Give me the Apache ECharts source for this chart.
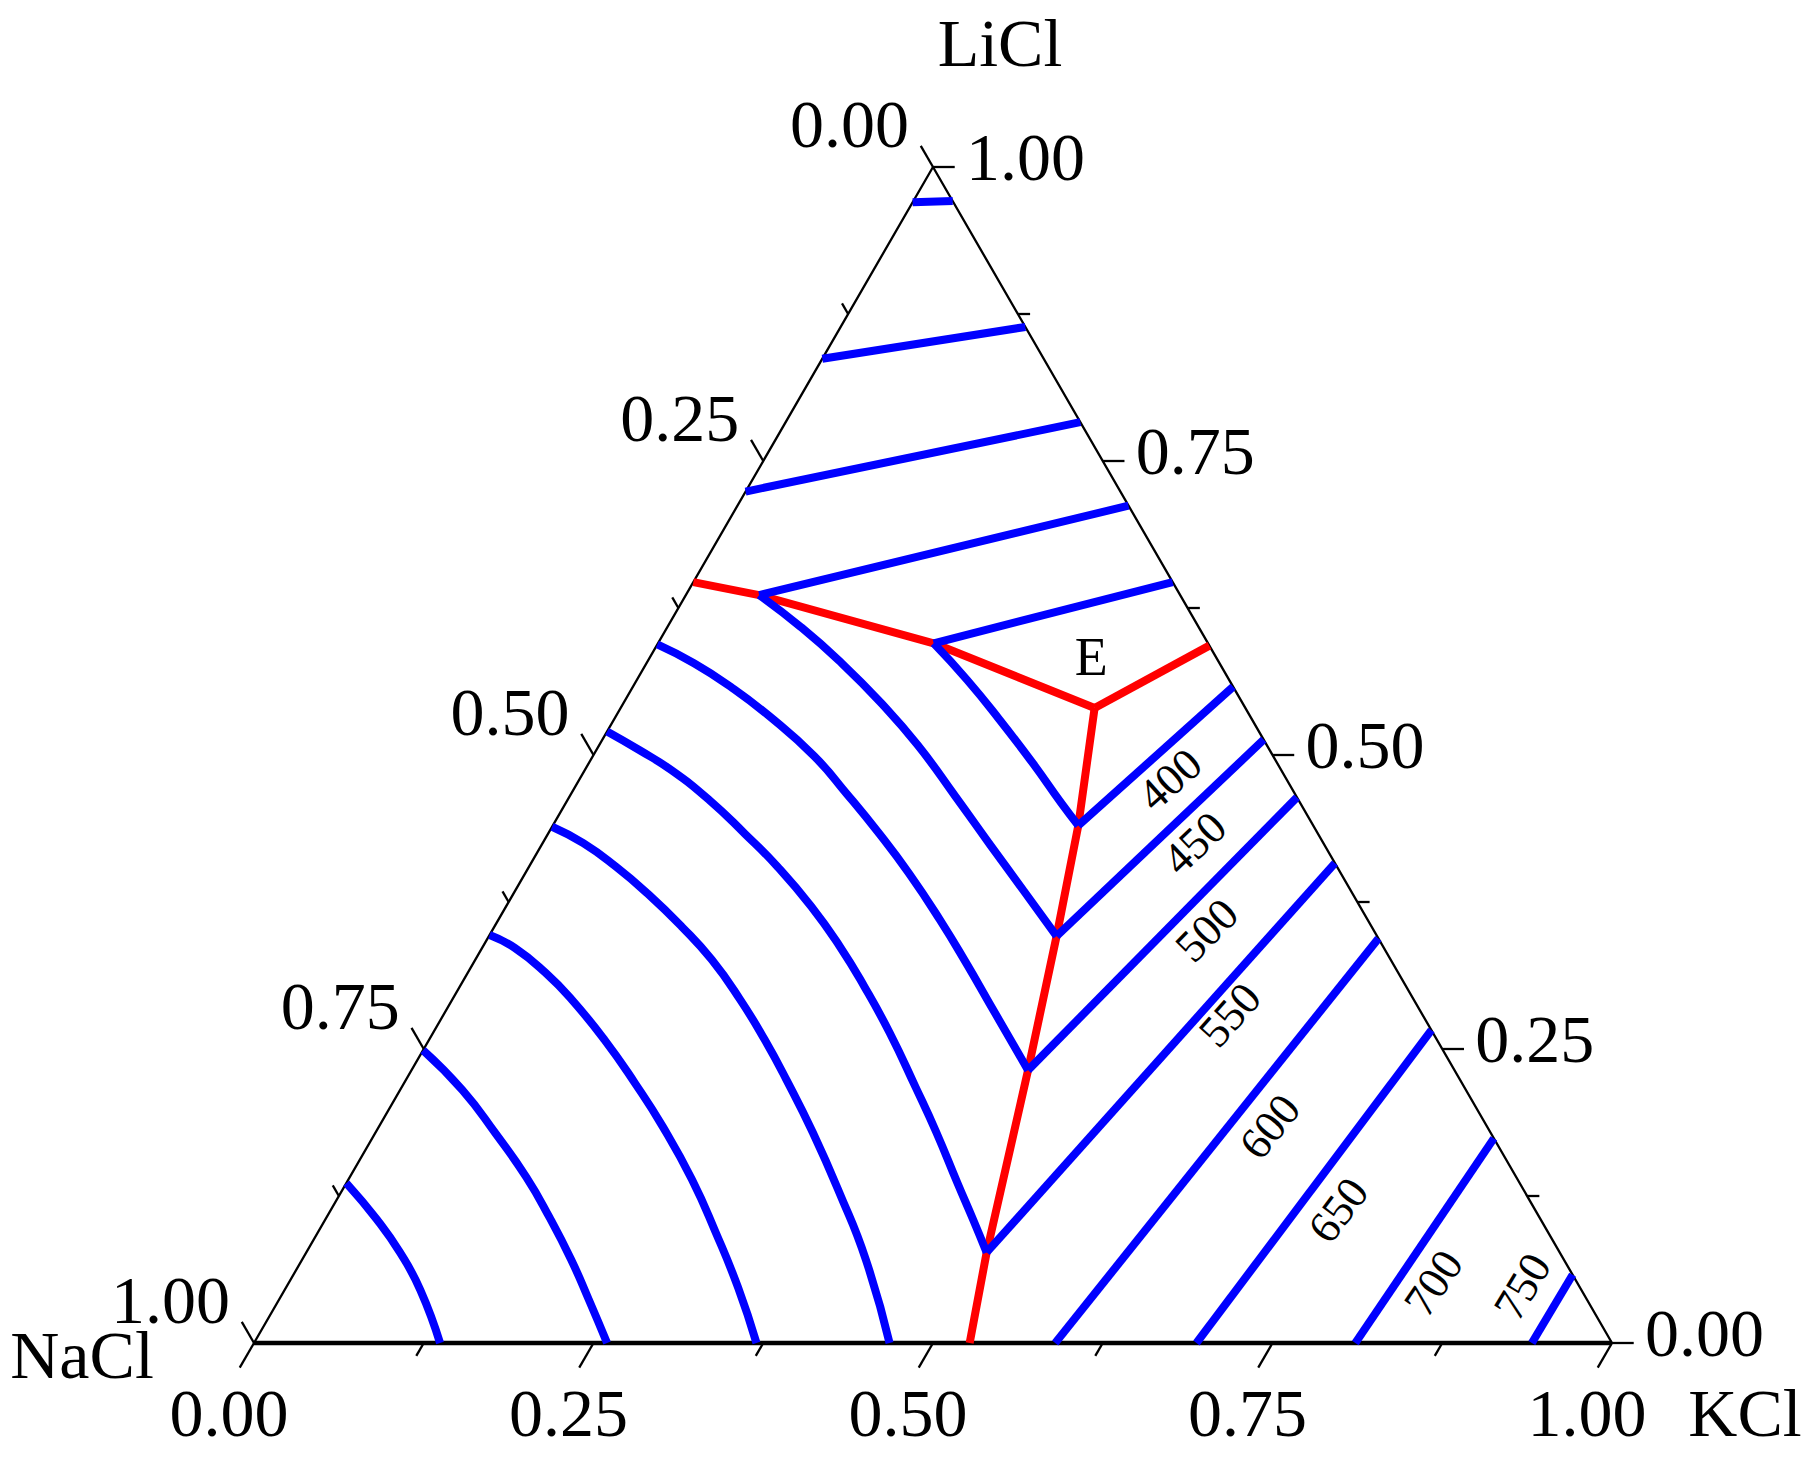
<!DOCTYPE html>
<html>
<head>
<meta charset="utf-8">
<title>NaCl-KCl-LiCl</title>
<script src="https://cdn.jsdelivr.net/npm/echarts@6/dist/echarts.min.js"></script>
<style>
  html, body { margin: 0; padding: 0; background: #ffffff; }
  #main { width: 1804px; height: 1457px; }
</style>
</head>
<body>
<div id="main"></div>
<script>
  // 三元相图：每个点为 [KCl, LiCl] 摩尔分数，NaCl = 1 - KCl - LiCl

  const axisTicks = [0, 0.125, 0.25, 0.375, 0.5, 0.625, 0.75, 0.875, 1];
  const axisLabelValues = [0, 0.25, 0.5, 0.75, 1];
  const axisLabels = ['0.00', '0.25', '0.50', '0.75', '1.00'];
  const axisNames = ['LiCl', 'NaCl', 'KCl'];

  // LiCl 初晶区等温线
  const liclIso1 = [[0, 0.970], [0.029, 0.971]];
  const liclIso2 = [[0, 0.837], [0.136, 0.864]];
  const liclIso3 = [[0, 0.724], [0.217, 0.783]];
  const liclIso4 = [[0.054, 0.636], [0.288, 0.712]];
  const liclIso5 = [[0.203, 0.595], [0.353, 0.647]];

  // NaCl 初晶区等温线
  const naclIso1 = [[0, 0.136], [0.038, 0.105], [0.069, 0.077], [0.100, 0.045], [0.137, 0]];
  const naclIso2 = [[0, 0.249], [0.046, 0.215], [0.089, 0.178], [0.130, 0.141], [0.164, 0.107],
    [0.198, 0.071], [0.228, 0.037], [0.260, 0]];
  const naclIso3 = [[0, 0.347], [0.024, 0.336], [0.057, 0.315], [0.088, 0.292], [0.129, 0.258],
    [0.170, 0.221], [0.209, 0.184], [0.253, 0.139], [0.293, 0.094], [0.333, 0.047], [0.370, 0]];
  const naclIso4 = [[0, 0.439], [0.030, 0.425], [0.064, 0.405], [0.099, 0.382], [0.138, 0.354],
    [0.174, 0.326], [0.212, 0.292], [0.247, 0.258], [0.280, 0.224], [0.322, 0.179],
    [0.367, 0.128], [0.415, 0.071], [0.468, 0]];
  const naclIso5 = [[0, 0.520], [0.032, 0.504], [0.064, 0.487], [0.104, 0.462], [0.145, 0.433],
    [0.183, 0.405], [0.225, 0.371], [0.263, 0.337], [0.298, 0.303], [0.336, 0.264],
    [0.378, 0.218], [0.413, 0.179], [0.450, 0.136], [0.477, 0.105], [0.501, 0.077]];
  const naclIso6 = [[0, 0.594], [0.035, 0.578], [0.072, 0.558], [0.113, 0.533], [0.163, 0.499],
    [0.203, 0.467], [0.244, 0.433], [0.283, 0.399], [0.325, 0.360], [0.363, 0.323],
    [0.397, 0.289], [0.426, 0.260], [0.454, 0.232]];
  const naclIso7 = [[0.054, 0.636], [0.098, 0.609], [0.141, 0.580], [0.190, 0.544], [0.235, 0.508],
    [0.285, 0.464], [0.331, 0.423], [0.374, 0.385], [0.418, 0.346]];
  const naclIso8 = [[0.203, 0.595], [0.243, 0.564], [0.284, 0.530], [0.327, 0.493],
    [0.365, 0.459], [0.387, 0.440]];

  // KCl 初晶区等温线（400 ~ 750）
  const kclIso1 = [[0.387, 0.440], [0.442, 0.558]];
  const kclIso2 = [[0.418, 0.346], [0.487, 0.513]];
  const kclIso3 = [[0.454, 0.232], [0.536, 0.464]];
  const kclIso4 = [[0.501, 0.077], [0.592, 0.408]];
  const kclIso5 = [[0.590, 0], [0.656, 0.344]];
  const kclIso6 = [[0.694, 0], [0.734, 0.266]];
  const kclIso7 = [[0.811, 0], [0.826, 0.174]];
  const kclIso8 = [[0.941, 0], [0.942, 0.058]];

  // 二元共晶线，交于 E
  const boundaryNaClLiCl = [[0, 0.647], [0.054, 0.636], [0.203, 0.595], [0.349, 0.540]];
  const boundaryLiClKCl = [[0.349, 0.540], [0.407, 0.593]];
  const boundaryNaClKCl = [[0.349, 0.540], [0.387, 0.440], [0.418, 0.346], [0.454, 0.232],
    [0.501, 0.077], [0.527, 0]];

  const isoLabels = ['400', '450', '500', '550', '600', '650', '700', '750'];
  const isoLabelPos = [[0.435, 0.479], [0.480, 0.425], [0.526, 0.351], [0.579, 0.279],
    [0.656, 0.184], [0.742, 0.113], [0.843, 0.051], [0.910, 0.048]];
  const eutecticName = 'E';
  const eutecticLabelPos = [0.325, 0.583];


  const H = Math.sqrt(3) / 2;
  const FONT = "'Liberation Serif', 'Times New Roman', serif";
  const BLUE = '#0000ff';
  const RED = '#ff0000';

  // 三元坐标 -> 直角坐标
  function xy(p) {
    return [p[0] + p[1] / 2, p[1] * H];
  }

  function poly(points, color, smooth) {
    return {
      type: 'line',
      data: points.map(xy),
      symbol: 'none',
      showSymbol: false,
      smooth: smooth || false,
      clip: false,
      silent: true,
      animation: false,
      lineStyle: {color: color, width: 8, join: 'round'},
      emphasis: {disabled: true}
    };
  }

  function textSeries(items, fontSize) {
    return {
      type: 'scatter',
      symbolSize: 1,
      clip: false,
      silent: true,
      animation: false,
      itemStyle: {color: 'rgba(0,0,0,0)', opacity: 1},
      data: items,
      label: {
        show: true,
        position: 'inside',
        formatter: '{b}',
        color: '#000000',
        opacity: 1,
        textBorderWidth: 0,
        fontFamily: FONT,
        fontSize: fontSize,
        lineHeight: Math.round(fontSize * 0.72)
      }
    };
  }

  //组装刻度线
  let tickSegs = [];
  axisTicks.forEach(function (v) {
    let major = axisLabelValues.indexOf(v) >= 0;
    // 底边 KCl
    let b = xy([v, 0]);
    let len = major ? 0.021 : 0.011;
    tickSegs.push({coords: [b, [b[0] - 0.5 * len, b[1] - H * len]]});
    // 左边 NaCl
    let l = xy([0, 1 - v]);
    len = major ? 0.018 : 0.009;
    tickSegs.push({coords: [l, [l[0] - 0.5 * len, l[1] + H * len]]});
    // 右边 LiCl
    let r = xy([1 - v, v]);
    len = major ? 0.016 : 0.009;
    tickSegs.push({coords: [r, [r[0] + len, r[1]]]});
  });

  //组装刻度标签
  let tickTexts = [];
  axisLabelValues.forEach(function (v, i) {
    tickTexts.push({name: axisLabels[i], value: xy([v, 0]),
      label: {align: 'center', offset: [-25, 70]}});
    tickTexts.push({name: axisLabels[i], value: xy([0, 1 - v]),
      label: {align: 'right', offset: [-24, -43]}});
    tickTexts.push({name: axisLabels[i], value: xy([1 - v, v]),
      label: {align: 'left', offset: [33, -10]}});
  });
  tickTexts.push({name: axisNames[0], value: xy([0, 1]), label: {offset: [67, -124]}});
  tickTexts.push({name: axisNames[1], value: xy([0, 0]), label: {offset: [-172, 12]}});
  tickTexts.push({name: axisNames[2], value: xy([1, 0]), label: {offset: [133, 70]}});

  // 等温线标签，沿对应直线方向旋转
  const kclLines = [kclIso1, kclIso2, kclIso3, kclIso4, kclIso5, kclIso6, kclIso7, kclIso8];
  let isoTexts = isoLabels.map(function (t, i) {
    let a = xy(kclLines[i][0]);
    let b = xy(kclLines[i][1]);
    let ang = Math.atan2(b[1] - a[1], b[0] - a[0]) * 180 / Math.PI;
    return {name: t, value: xy(isoLabelPos[i]), label: {rotate: ang}};
  });

  let series = [
    // 三角形边框
    {
      type: 'line', data: [xy([0, 0]), xy([0, 1]), xy([1, 0])], symbol: 'none',
      clip: false, silent: true, animation: false,
      lineStyle: {color: '#000000', width: 2.3}
    },
    {
      type: 'line', data: [xy([0, 0]), xy([1, 0])], symbol: 'none',
      clip: false, silent: true, animation: false,
      lineStyle: {color: '#000000', width: 4.5}
    },
    {
      type: 'lines', coordinateSystem: 'cartesian2d', data: tickSegs,
      clip: false, silent: true, animation: false,
      lineStyle: {color: '#000000', width: 2.3, opacity: 1}
    },
    poly(boundaryNaClLiCl, RED),
    poly(boundaryLiClKCl, RED),
    poly(boundaryNaClKCl, RED)
  ];

  [liclIso1, liclIso2, liclIso3, liclIso4, liclIso5].forEach(function (d) {
    series.push(poly(d, BLUE));
  });
  [naclIso1, naclIso2, naclIso3, naclIso4, naclIso5, naclIso6, naclIso7, naclIso8].forEach(function (d) {
    series.push(poly(d, BLUE, 0.5));
  });
  kclLines.forEach(function (d) {
    series.push(poly(d, BLUE));
  });

  series.push(textSeries(tickTexts, 68));
  series.push(textSeries(isoTexts, 45));
  series.push(textSeries([{name: eutecticName, value: xy(eutecticLabelPos)}], 54));

  let myChart = echarts.init(document.getElementById('main'), null, {renderer: 'svg'});

  myChart.setOption({
    backgroundColor: '#ffffff',
    animation: false,
    grid: {left: 254, top: 167, width: 1358, height: 1176},
    xAxis: {type: 'value', min: 0, max: 1, show: false},
    yAxis: {type: 'value', min: 0, max: H, show: false},
    series: series
  });
</script>
</body>
</html>
